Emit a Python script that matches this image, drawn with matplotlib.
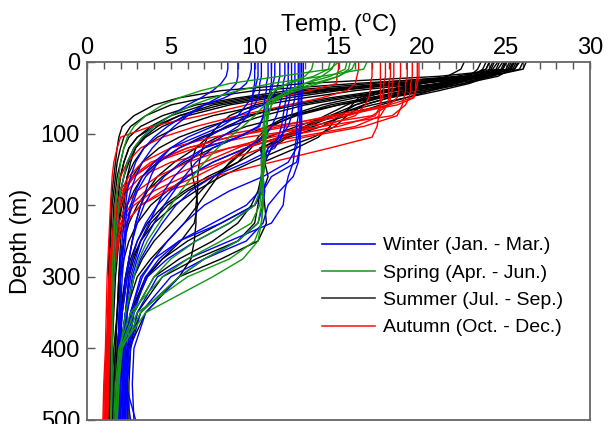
import numpy as np
import matplotlib
matplotlib.use("Agg")
import matplotlib.pyplot as plt
from matplotlib.ticker import MultipleLocator

plt.rcParams['font.family'] = ['Liberation Sans', 'DejaVu Sans']

# Depth levels (m) shared by every profile
depth = [0, 10, 20, 30, 40, 50, 60, 75, 90, 105, 120, 140, 160, 180, 200,
         225, 250, 275, 300, 350, 400, 450, 500]

# Winter (Jan. - Mar.) temperature profiles, degC
winter = [
    [12.8, 12.8, 12.8, 12.8, 12.8, 12.8, 12.8, 12.7, 12.7, 12.7, 12.7, 12.6, 12.3, 11.5, 10.8, 10.5, 9.5, 7.0, 5.0, 3.2, 2.6, 2.4, 2.3],
    [12.6, 12.6, 12.6, 12.6, 12.6, 12.6, 12.6, 12.6, 12.5, 12.5, 12.4, 12.3, 12.0, 11.8, 11.7, 11.0, 8.5, 6.0, 4.2, 3.0, 2.5, 2.3, 2.2],
    [12.9, 12.9, 12.9, 12.9, 12.9, 12.8, 12.8, 12.8, 12.8, 12.7, 12.7, 12.5, 11.0, 10.5, 10.0, 8.0, 5.5, 4.0, 3.2, 2.6, 2.3, 2.2, 2.1],
    [12.4, 12.4, 12.4, 12.4, 12.4, 12.4, 12.3, 12.2, 12.0, 11.5, 10.8, 10.5, 10.5, 10.6, 10.5, 10.2, 9.0, 7.0, 5.5, 3.5, 2.8, 2.7, 2.8],
    [11.0, 11.0, 11.0, 11.0, 10.9, 10.9, 10.8, 10.8, 10.7, 10.5, 9.5, 7.5, 6.0, 5.0, 4.2, 3.5, 3.0, 2.7, 2.5, 2.3, 2.2, 2.2, 2.1],
    [10.4, 10.4, 10.4, 10.3, 10.3, 10.2, 10.0, 9.5, 8.5, 7.0, 5.5, 4.3, 3.5, 3.0, 2.7, 2.4, 2.3, 2.2, 2.1, 2.0, 1.9, 1.9, 1.8],
    [11.5, 11.5, 11.5, 11.4, 11.3, 11.0, 10.5, 9.0, 7.5, 6.0, 5.0, 4.0, 3.3, 2.9, 2.6, 2.4, 2.2, 2.1, 2.0, 1.9, 1.85, 1.8, 1.8],
    [8.4, 8.4, 8.3, 8.0, 7.5, 6.8, 6.0, 5.0, 4.0, 3.3, 2.8, 2.4, 2.2, 2.0, 1.9, 1.8, 1.7, 1.65, 1.6, 1.55, 1.5, 1.5, 1.45],
    [9.0, 9.0, 9.0, 8.9, 8.5, 7.8, 7.0, 6.0, 5.2, 4.5, 3.9, 3.3, 2.9, 2.6, 2.4, 2.3, 2.2, 2.1, 2.0, 1.95, 1.9, 1.9, 1.85],
    [10.2, 10.2, 10.2, 10.1, 10.0, 9.8, 9.5, 9.0, 8.0, 6.5, 5.0, 4.2, 3.8, 3.5, 3.2, 2.9, 2.7, 2.5, 2.4, 2.1, 1.9, 2.3, 2.9],
    [12.0, 12.0, 12.0, 12.0, 11.9, 11.9, 11.8, 11.7, 11.6, 11.4, 11.0, 10.6, 10.4, 10.3, 9.5, 7.5, 5.5, 4.3, 3.5, 2.8, 2.5, 2.4, 2.4],
    [10.8, 10.8, 10.8, 10.7, 10.7, 10.6, 10.6, 10.5, 10.3, 9.0, 7.5, 6.5, 5.8, 5.2, 4.6, 4.0, 3.4, 3.0, 2.7, 2.4, 2.3, 2.2, 2.2],
    [11.8, 11.8, 11.8, 11.7, 11.7, 11.6, 11.5, 11.3, 11.0, 10.6, 10.4, 10.4, 10.5, 10.4, 10.0, 8.5, 6.5, 4.8, 3.6, 2.7, 2.4, 2.3, 2.3],
    [9.8, 9.8, 9.7, 9.5, 9.0, 8.2, 7.0, 5.8, 4.8, 4.0, 3.4, 2.9, 2.6, 2.4, 2.3, 2.2, 2.1, 2.0, 2.0, 1.95, 1.9, 1.9, 1.9],
    [12.7, 12.7, 12.7, 12.7, 12.7, 12.7, 12.7, 12.7, 12.7, 12.6, 12.5, 12.0, 10.5, 8.5, 7.0, 5.8, 4.8, 4.0, 3.3, 2.6, 2.3, 2.2, 2.1],
    [10.0, 10.0, 10.0, 10.0, 9.9, 9.9, 9.8, 9.6, 9.0, 8.0, 7.0, 6.0, 5.2, 4.6, 4.2, 3.7, 3.2, 2.9, 2.6, 2.3, 2.1, 2.3, 2.6],
    [11.2, 11.2, 11.2, 11.1, 11.0, 10.9, 10.8, 10.6, 10.2, 9.0, 7.0, 5.6, 4.6, 3.9, 3.4, 3.0, 2.7, 2.5, 2.3, 2.1, 2.0, 2.0, 2.0],
    [12.2, 12.2, 12.2, 12.2, 12.1, 12.1, 12.0, 11.9, 11.8, 11.6, 11.2, 9.5, 7.5, 6.2, 5.3, 4.5, 3.8, 3.2, 2.8, 2.4, 2.2, 2.1, 2.1],
]

# Spring (Apr. - Jun.)
spring = [
    [15.5, 15.4, 14.5, 13.0, 12.0, 11.3, 11.0, 10.8, 10.7, 10.7, 10.6, 10.6, 10.5, 10.5, 10.5, 10.4, 10.2, 9.3, 7.5, 3.5, 2.0, 1.9, 1.8],
    [16.0, 15.8, 15.0, 13.5, 12.2, 11.5, 11.0, 10.8, 10.7, 10.6, 10.6, 10.5, 10.5, 10.5, 10.4, 10.2, 9.0, 7.0, 5.5, 3.2, 2.1, 1.9, 1.8],
    [14.5, 14.4, 13.5, 12.0, 11.0, 10.8, 10.7, 10.6, 10.5, 10.5, 10.5, 10.4, 10.4, 10.3, 10.0, 8.5, 6.5, 5.0, 4.0, 2.8, 2.0, 1.8, 1.7],
    [15.0, 14.5, 11.5, 8.5, 6.8, 5.5, 4.5, 3.5, 2.8, 2.4, 2.2, 2.0, 1.9, 1.8, 1.7, 1.65, 1.6, 1.55, 1.5, 1.5, 1.45, 1.45, 1.4],
    [16.7, 16.5, 14.0, 11.0, 9.0, 7.5, 6.3, 5.0, 4.0, 3.3, 2.8, 2.4, 2.2, 2.0, 1.9, 1.8, 1.7, 1.65, 1.6, 1.55, 1.5, 1.5, 1.45],
    [13.5, 13.4, 13.0, 12.0, 11.2, 10.9, 10.8, 10.7, 10.7, 10.6, 10.6, 10.6, 10.5, 10.5, 10.5, 10.4, 10.0, 8.5, 6.0, 3.0, 2.0, 1.8, 1.7],
    [14.8, 14.6, 14.0, 13.0, 12.0, 11.2, 10.6, 10.0, 9.3, 8.5, 7.8, 7.0, 6.3, 5.6, 5.0, 4.3, 3.6, 3.1, 2.8, 2.3, 2.0, 1.8, 1.7],
    [15.7, 15.6, 15.0, 13.8, 12.5, 11.4, 10.8, 10.6, 10.6, 10.6, 10.5, 10.5, 10.5, 10.4, 10.3, 9.8, 8.0, 6.0, 4.5, 2.6, 1.9, 1.7, 1.6],
]

# Summer (Jul. - Sep.)
summer = [
    [25.5, 25.2, 21.0, 13.0, 8.0, 5.5, 4.0, 2.8, 2.1, 1.9, 1.8, 1.7, 1.6, 1.5, 1.45, 1.4, 1.35, 1.3, 1.3, 1.25, 1.2, 1.15, 1.1],
    [25.8, 25.5, 23.0, 16.0, 10.0, 7.0, 5.0, 3.5, 2.6, 2.2, 2.0, 1.8, 1.7, 1.6, 1.5, 1.45, 1.4, 1.35, 1.3, 1.3, 1.25, 1.2, 1.2],
    [24.8, 24.5, 22.0, 17.0, 12.0, 9.0, 6.5, 4.5, 3.2, 2.5, 2.2, 2.0, 1.8, 1.7, 1.6, 1.55, 1.5, 1.45, 1.4, 1.35, 1.3, 1.3, 1.25],
    [25.0, 24.8, 23.5, 19.0, 14.0, 10.5, 8.0, 5.5, 4.0, 3.0, 2.5, 2.2, 2.0, 1.9, 1.8, 1.7, 1.6, 1.55, 1.5, 1.45, 1.4, 1.35, 1.3],
    [26.0, 25.8, 24.0, 20.0, 16.0, 13.0, 10.5, 7.5, 5.5, 4.2, 3.4, 2.8, 2.4, 2.2, 2.0, 1.9, 1.8, 1.7, 1.6, 1.5, 1.45, 1.4, 1.35],
    [24.5, 24.2, 23.5, 21.0, 18.0, 15.5, 13.0, 10.5, 8.5, 6.8, 5.5, 4.2, 3.3, 2.8, 2.4, 2.1, 1.9, 1.8, 1.7, 1.6, 1.5, 1.45, 1.4],
    [23.8, 23.6, 23.0, 21.5, 19.0, 17.0, 15.0, 12.5, 10.8, 9.0, 7.5, 5.8, 4.5, 3.6, 3.0, 2.5, 2.2, 2.0, 1.9, 1.8, 1.6, 1.5, 1.45],
    [25.2, 25.0, 24.2, 22.0, 19.5, 17.5, 16.0, 14.5, 13.0, 11.5, 10.5, 9.0, 7.2, 5.8, 4.6, 3.6, 3.0, 2.6, 2.3, 2.0, 1.8, 1.7, 1.6],
    [24.0, 23.8, 22.5, 20.0, 17.5, 16.2, 15.8, 15.2, 14.0, 12.0, 10.3, 10.6, 10.8, 10.5, 10.0, 8.0, 6.0, 4.5, 3.5, 2.6, 2.2, 2.0, 1.9],
    [22.5, 22.3, 21.5, 20.0, 18.0, 16.5, 15.5, 14.2, 13.0, 11.8, 10.8, 10.5, 10.4, 10.2, 9.8, 9.0, 7.5, 5.5, 4.0, 2.8, 2.4, 2.4, 2.4],
    [25.0, 24.8, 23.0, 19.0, 15.0, 12.0, 10.0, 8.5, 7.8, 7.2, 6.9, 6.7, 6.6, 6.6, 6.5, 6.5, 6.4, 6.2, 5.5, 3.5, 2.5, 2.3, 2.2],
    [25.5, 25.3, 24.5, 22.5, 20.0, 17.5, 15.0, 12.0, 9.5, 7.8, 6.5, 5.2, 4.2, 3.6, 3.2, 2.9, 2.7, 2.5, 2.3, 2.0, 1.8, 1.7, 1.6],
    [24.2, 24.0, 23.2, 21.0, 18.0, 15.0, 12.5, 9.5, 7.2, 5.5, 4.3, 3.3, 2.7, 2.3, 2.1, 1.9, 1.8, 1.7, 1.6, 1.5, 1.45, 1.4, 1.35],
    [25.6, 25.4, 22.5, 18.0, 13.0, 9.5, 7.0, 5.0, 3.8, 3.0, 2.5, 2.2, 2.0, 1.8, 1.7, 1.6, 1.5, 1.45, 1.4, 1.35, 1.3, 1.25, 1.2],
    [23.5, 23.3, 22.8, 21.8, 20.5, 19.0, 17.5, 15.5, 13.5, 11.5, 9.5, 7.5, 6.0, 4.8, 3.8, 3.0, 2.5, 2.2, 2.0, 1.8, 1.7, 1.6, 1.5],
    [25.0, 24.8, 24.0, 22.8, 21.0, 19.0, 17.0, 14.5, 12.5, 10.8, 9.5, 8.5, 7.8, 7.2, 6.6, 5.8, 4.8, 3.8, 3.0, 2.3, 2.0, 1.9, 1.8],
    [24.6, 24.4, 23.8, 22.5, 20.5, 18.0, 16.5, 15.5, 14.8, 13.5, 11.8, 9.8, 8.0, 6.5, 5.2, 4.0, 3.2, 2.7, 2.4, 2.1, 1.9, 1.8, 1.7],
    [26.2, 26.0, 24.0, 19.5, 14.5, 11.0, 8.5, 6.0, 4.5, 3.5, 2.9, 2.5, 2.2, 2.0, 1.9, 1.8, 1.7, 1.6, 1.55, 1.5, 1.45, 1.4, 1.35],
    [25.3, 25.1, 23.8, 21.5, 18.5, 16.0, 14.0, 12.0, 10.8, 10.2, 9.8, 9.0, 7.5, 6.0, 4.8, 3.8, 3.2, 2.8, 2.5, 2.3, 2.1, 2.0, 1.9],
    [24.0, 23.8, 23.0, 21.0, 19.0, 17.2, 16.0, 15.0, 14.5, 13.8, 12.5, 10.5, 10.4, 10.3, 10.2, 10.0, 9.0, 6.5, 4.5, 3.0, 2.6, 2.5, 2.5],
    [24.3, 24.1, 23.4, 22.0, 20.0, 18.0, 16.5, 14.8, 13.2, 12.0, 11.0, 10.6, 10.5, 10.5, 10.6, 10.7, 10.2, 8.0, 5.5, 3.2, 2.4, 2.2, 2.1],
    [25.4, 25.2, 24.0, 21.0, 17.5, 14.5, 12.0, 9.8, 8.3, 7.2, 6.5, 6.2, 6.3, 6.5, 6.6, 6.4, 5.6, 4.5, 3.6, 2.6, 2.2, 2.1, 2.0],
    [24.9, 24.7, 23.6, 21.8, 19.2, 16.8, 14.5, 12.3, 11.0, 10.4, 9.6, 8.6, 7.6, 6.8, 6.0, 5.0, 4.0, 3.3, 2.8, 2.3, 2.0, 1.9, 1.85],
    [25.7, 25.5, 23.2, 18.5, 13.5, 10.0, 7.5, 5.5, 4.2, 3.4, 2.9, 2.6, 2.4, 2.3, 2.2, 2.1, 2.0, 1.95, 1.9, 1.8, 1.7, 1.6, 1.5],
]

# Autumn (Oct. - Dec.)
autumn = [
    [19.7, 19.7, 19.7, 19.6, 19.6, 19.5, 18.5, 15.0, 11.0, 7.5, 5.0, 3.3, 2.5, 2.0, 1.8, 1.6, 1.5, 1.4, 1.35, 1.3, 1.2, 1.15, 1.1],
    [19.4, 19.4, 19.4, 19.3, 19.3, 19.2, 19.0, 18.2, 14.0, 9.5, 6.5, 4.0, 2.8, 2.2, 1.9, 1.7, 1.55, 1.45, 1.4, 1.3, 1.25, 1.2, 1.15],
    [18.7, 18.7, 18.7, 18.6, 18.6, 18.5, 18.0, 15.5, 12.0, 8.5, 6.0, 3.8, 2.7, 2.1, 1.8, 1.6, 1.5, 1.4, 1.3, 1.25, 1.2, 1.1, 1.05],
    [18.1, 18.1, 18.1, 18.0, 18.0, 18.0, 17.9, 17.5, 16.0, 12.5, 8.5, 5.0, 3.2, 2.4, 2.0, 1.75, 1.6, 1.5, 1.45, 1.35, 1.3, 1.25, 1.2],
    [17.5, 17.5, 17.5, 17.5, 17.5, 17.5, 17.5, 17.4, 17.3, 17.0, 14.5, 11.0, 7.5, 4.8, 3.2, 2.3, 1.9, 1.7, 1.55, 1.4, 1.3, 1.25, 1.2],
    [19.8, 19.8, 19.8, 19.7, 19.6, 19.4, 18.0, 14.5, 11.5, 8.5, 6.0, 4.0, 2.8, 2.2, 1.9, 1.7, 1.55, 1.45, 1.35, 1.25, 1.15, 1.05, 1.0],
    [15.0, 15.0, 14.9, 14.9, 13.3, 11.4, 9.5, 6.8, 3.8, 2.0, 1.8, 1.6, 1.5, 1.45, 1.4, 1.35, 1.3, 1.25, 1.2, 1.15, 1.1, 1.0, 0.95],
    [17.0, 17.0, 17.0, 16.9, 16.9, 16.8, 16.6, 16.0, 14.0, 11.0, 8.5, 6.0, 4.2, 3.0, 2.3, 1.9, 1.7, 1.55, 1.45, 1.35, 1.25, 1.2, 1.15],
    [18.3, 18.3, 18.3, 18.2, 18.2, 18.1, 18.0, 17.0, 13.0, 10.5, 9.0, 7.0, 5.0, 3.5, 2.6, 2.0, 1.8, 1.6, 1.5, 1.4, 1.3, 1.25, 1.2],
    [19.1, 19.1, 19.1, 19.0, 19.0, 18.9, 18.8, 18.5, 16.5, 13.0, 10.5, 8.0, 5.8, 4.0, 2.8, 2.1, 1.8, 1.6, 1.5, 1.4, 1.3, 1.25, 1.2],
    [17.8, 17.8, 17.8, 17.7, 17.7, 17.6, 17.5, 17.2, 15.0, 11.5, 9.5, 8.2, 6.5, 4.5, 3.2, 2.3, 1.9, 1.7, 1.6, 1.45, 1.35, 1.3, 1.25],
    [16.2, 16.2, 16.1, 16.0, 15.5, 14.0, 12.0, 9.0, 6.5, 4.5, 3.2, 2.4, 2.0, 1.8, 1.7, 1.6, 1.5, 1.4, 1.35, 1.3, 1.2, 1.15, 1.1],
]

season_labels = ['Winter (Jan. - Mar.)', 'Spring (Apr. - Jun.)',
                 'Summer (Jul. - Sep.)', 'Autumn (Oct. - Dec.)']
season_colors = ['#0000ff', '#119911', '#000000', '#ff0000']
legend_colors = ['#0000ff', '#2a9a2a', '#333333', '#ff2020']

fig = plt.figure(figsize=(6.09, 4.24), dpi=100)
ax = fig.add_axes([87 / 609, 1 - 420 / 424, (590 - 87) / 609, (420 - 62) / 424])

# draw order: summer, autumn, winter, spring
order = [2, 3, 0, 1]
groups = [winter, spring, summer, autumn]
for k in order:
    for prof in groups[k]:
        ax.plot(prof, depth, color=season_colors[k], lw=1.0)

ax.set_xlim(0, 30)
ax.set_ylim(500, 0)
ax.xaxis.tick_top()
ax.xaxis.set_label_position('top')
ax.xaxis.set_major_locator(MultipleLocator(5))
ax.xaxis.set_minor_locator(MultipleLocator(1))
ax.yaxis.set_major_locator(MultipleLocator(100))
ax.tick_params(axis='x', which='both', direction='in', length=5, width=1,
               color='#555555', labelsize=17, pad=2)
ax.tick_params(axis='y', which='both', direction='in', length=6, width=1,
               color='#555555', labelsize=17, pad=5)
for s in ax.spines.values():
    s.set_color('#666666')
    s.set_linewidth(1.3)

ax.set_xlabel('Temp. ($\\mathregular{^o}$C)', fontsize=17, labelpad=4)
ax.set_ylabel('Depth (m)', fontsize=17, labelpad=6)

handles = [plt.Line2D([], [], color=c, lw=1.2) for c in legend_colors]
ax.legend(handles, season_labels, loc='upper left', bbox_to_anchor=(0.467, 0.512),
          frameon=False, fontsize=14, handlelength=2.75, handletextpad=0.4,
          labelspacing=0.5, borderpad=0, borderaxespad=0)

fig.savefig('out.png', dpi=100)
